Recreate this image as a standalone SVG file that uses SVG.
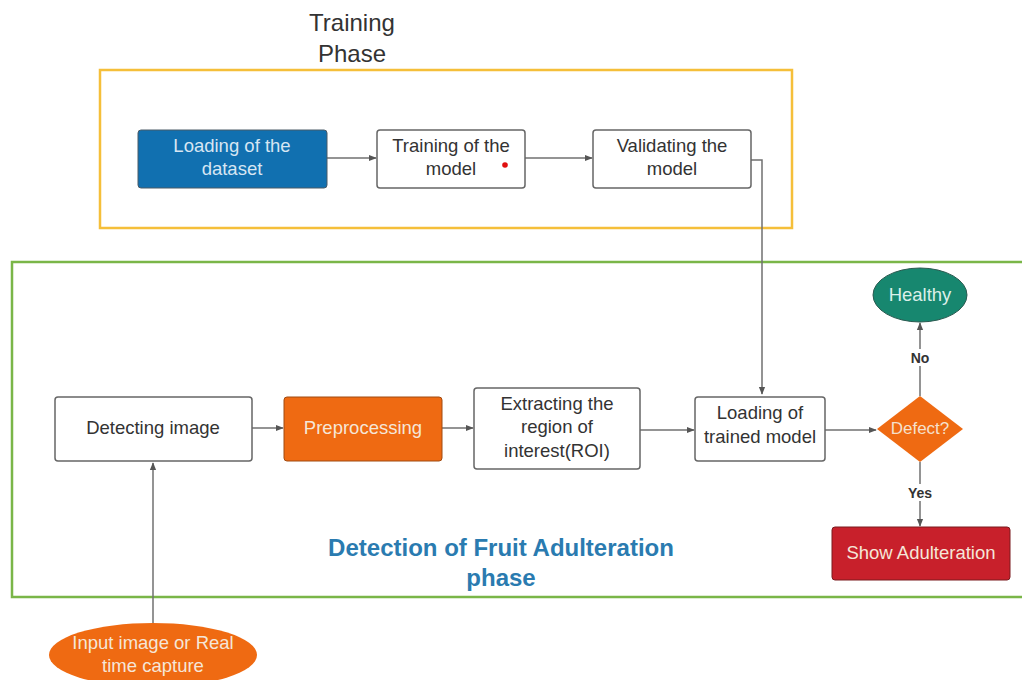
<svg xmlns="http://www.w3.org/2000/svg" width="1022" height="680" viewBox="0 0 1022 680">
<defs>
<style>
text{font-family:"Liberation Sans",Arial,sans-serif;text-anchor:middle;}
.n{font-size:18.5px;fill:#333;}
.w{font-size:18.5px;fill:#f5e6d8;}
.box{fill:#fff;stroke:#666;stroke-width:1.5;}
.c{fill:none;stroke:#707070;stroke-width:1.5;}
.lbl{font-size:14px;font-weight:bold;fill:#333;}
</style>
<marker id="ah" viewBox="0 0 10 10" refX="9" refY="5" markerWidth="8" markerHeight="8" markerUnits="userSpaceOnUse" orient="auto">
<path d="M0,1 L10,5 L0,9 z" fill="#555"/>
</marker>
</defs>
<rect width="1022" height="680" fill="#fff"/>

<g id="training-phase">
<rect x="100" y="70" width="692" height="158" fill="none" stroke="#f5bf3a" stroke-width="2.5"/>
<text x="352" y="31" style="font-size:24px;fill:#333">Training</text>
<text x="352" y="62" style="font-size:24px;fill:#333">Phase</text>
</g>

<g id="detection-phase">
<rect x="12" y="262" width="1020" height="335" fill="none" stroke="#7ab648" stroke-width="2.5"/>
<text x="501" y="556" style="font-size:24px;font-weight:bold;fill:#2a7bb0">Detection of Fruit Adulteration</text>
<text x="501" y="586" style="font-size:24px;font-weight:bold;fill:#2a7bb0">phase</text>
</g>

<g id="connectors">
<line class="c" x1="327" y1="158" x2="376" y2="158" marker-end="url(#ah)"/>
<line class="c" x1="525" y1="158" x2="592" y2="158" marker-end="url(#ah)"/>
<polyline class="c" points="751,160 762,160 762,394" marker-end="url(#ah)"/>
<line class="c" x1="252" y1="428" x2="283" y2="428" marker-end="url(#ah)"/>
<line class="c" x1="442" y1="428" x2="473" y2="428" marker-end="url(#ah)"/>
<line class="c" x1="640" y1="430" x2="694" y2="430" marker-end="url(#ah)"/>
<line class="c" x1="825" y1="430" x2="876" y2="430" marker-end="url(#ah)"/>
<line class="c" x1="920" y1="396" x2="920" y2="323" marker-end="url(#ah)"/>
<line class="c" x1="920" y1="462" x2="920" y2="526" marker-end="url(#ah)"/>
<line class="c" x1="153" y1="623" x2="153" y2="463" marker-end="url(#ah)"/>
<rect x="907" y="349" width="26" height="17" fill="#fff"/>
<text class="lbl" x="920" y="363">No</text>
<rect x="904" y="484" width="32" height="17" fill="#fff"/>
<text class="lbl" x="920" y="498">Yes</text>
</g>

<g id="loading-dataset">
<rect x="138" y="130" width="189" height="58" rx="3" fill="#1170b0" stroke="#4a5a66" stroke-width="1"/>
<text class="n" x="232" y="152" style="fill:#d7e6f3">Loading of the</text>
<text class="n" x="232" y="175" style="fill:#d7e6f3">dataset</text>
</g>

<g id="training-model">
<rect class="box" x="377" y="130" width="148" height="58" rx="3"/>
<text class="n" x="451" y="152">Training of the</text>
<text class="n" x="451" y="175">model</text>
<circle cx="505" cy="165" r="2.8" fill="#e01010"/>
</g>

<g id="validating-model">
<rect class="box" x="593" y="130" width="158" height="58" rx="3"/>
<text class="n" x="672" y="152">Validating the</text>
<text class="n" x="672" y="175">model</text>
</g>

<g id="detecting-image">
<rect class="box" x="55" y="397" width="197" height="64" rx="3"/>
<text class="n" x="153" y="434">Detecting image</text>
</g>

<g id="preprocessing">
<rect x="284" y="397" width="158" height="64" rx="3" fill="#ef6a12" stroke="#a04a10" stroke-width="1"/>
<text class="w" x="363" y="434">Preprocessing</text>
</g>

<g id="extracting-roi">
<rect class="box" x="474" y="388" width="166" height="81" rx="3"/>
<text class="n" x="557" y="410">Extracting the</text>
<text class="n" x="557" y="433">region of</text>
<text class="n" x="557" y="457">interest(ROI)</text>
</g>

<g id="loading-trained-model">
<rect class="box" x="695" y="397" width="130" height="64" rx="3"/>
<text class="n" x="760" y="419">Loading of</text>
<text class="n" x="760" y="443">trained model</text>
</g>

<g id="defect">
<polygon points="920,396 963,429 920,462 877,429" fill="#ef6a12"/>
<text x="920" y="434" style="font-size:17px;fill:#f5e0cc">Defect?</text>
</g>

<g id="healthy">
<ellipse cx="920" cy="295" rx="47" ry="27" fill="#17876f" stroke="#2a5a50" stroke-width="1"/>
<text x="920" y="301" style="font-size:18.5px;fill:#dcefe9">Healthy</text>
</g>

<g id="show-adulteration">
<rect x="832" y="527" width="178" height="53" rx="3" fill="#c8202b" stroke="#7a1a1f" stroke-width="1"/>
<text class="w" x="921" y="559">Show Adulteration</text>
</g>

<g id="input-image">
<ellipse cx="153" cy="655" rx="104" ry="32" fill="#ef6a12"/>
<text class="w" x="153" y="649">Input image or Real</text>
<text class="w" x="153" y="672">time capture</text>
</g>
</svg>
